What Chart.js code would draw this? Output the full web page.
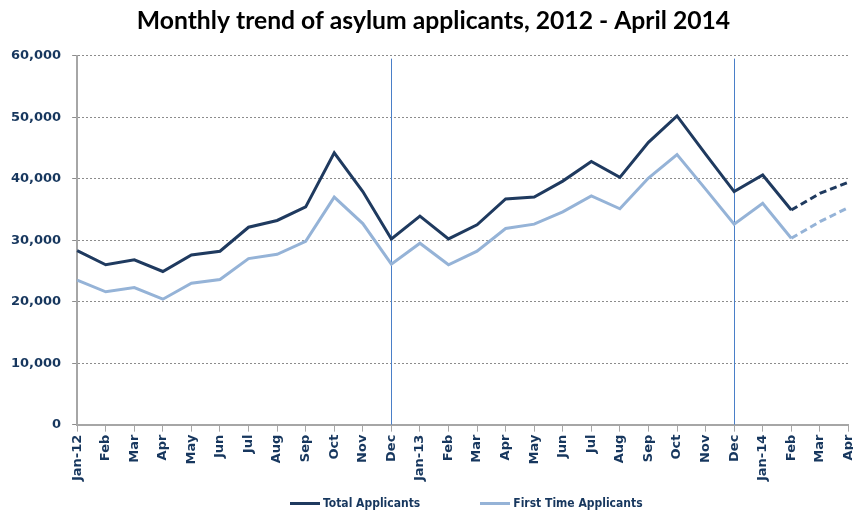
<!DOCTYPE html>
<html>
<head>
<meta charset="utf-8">
<title>Monthly trend of asylum applicants</title>
<script src="https://cdn.jsdelivr.net/npm/chart.js@4.4.1/dist/chart.umd.min.js"></script>
<style>
  html, body { margin: 0; padding: 0; background: #fff; overflow: hidden; }
  #wrap { position: relative; width: 853px; height: 513px; overflow: hidden; }
  #legend {
    position: absolute; top: 496px; left: 290px;
    display: flex; align-items: center;
    font: bold 12px "DejaVu Sans Condensed", "DejaVu Sans", sans-serif;
    color: #17375e;
  }
  .item { display: flex; align-items: center; margin-right: 60px; }
  .swatch { width: 30px; height: 3px; margin-right: 3px; }
</style>
</head>
<body>
<div id="wrap">
  <!-- canvas is a bit wider than the window so the last "Apr" label is clipped like the original -->
  <canvas id="asylumChart" width="867" height="513"></canvas>
  <div id="legend">
    <div class="item"><span class="swatch" style="background:#1f3a5f"></span>Total Applicants</div>
    <div class="item"><span class="swatch" style="background:#95b3d7"></span>First Time Applicants</div>
  </div>
</div>
<script>
// Data
const months = ['Jan-12', 'Feb', 'Mar', 'Apr', 'May', 'Jun', 'Jul', 'Aug', 'Sep', 'Oct', 'Nov', 'Dec',
                'Jan-13', 'Feb', 'Mar', 'Apr', 'May', 'Jun', 'Jul', 'Aug', 'Sep', 'Oct', 'Nov', 'Dec',
                'Jan-14', 'Feb', 'Mar', 'Apr'];
const totalApplicants = [28300, 26000, 26800, 24900, 27600, 28200, 32100, 33200, 35400, 44200, 37900, 30200,
                         33900, 30200, 32500, 36700, 37000, 39600, 42800, 40200, 45900, 50200, 44000, 37900,
                         40600, 34900, 37600, 39400];
const firstTimeApplicants = [23500, 21600, 22300, 20400, 23000, 23600, 27000, 27700, 29800, 37000, 32700, 26100,
                             29500, 26000, 28200, 31900, 32600, 34600, 37200, 35100, 40100, 43900, 38300, 32600,
                             36000, 30300, 33000, 35300];
const yTicks = [0, 10000, 20000, 30000, 40000, 50000, 60000];
const yearBreaks = [11, 23];      // indexes of the December markers
const estimatedFrom = 25;         // segments after this index are dashed

const navy = '#17375e';
const tickFont = { family: 'DejaVu Sans', weight: 'bold', size: 13 };

// Vertical year separators, drawn through the x scale
const yearLines = {
  id: 'yearLines',
  beforeDatasetsDraw(chart) {
    const { ctx, chartArea, scales } = chart;
    ctx.save();
    ctx.strokeStyle = '#4a7fc8';
    ctx.lineWidth = 1;
    yearBreaks.forEach(i => {
      const x = Math.round(scales.x.getPixelForValue(i)) + 0.5;
      ctx.beginPath();
      ctx.moveTo(x, chartArea.top + 3);
      ctx.lineTo(x, chartArea.bottom);
      ctx.stroke();
    });
    ctx.restore();
  }
};

const dashAfter = ctx => ctx.p0DataIndex >= estimatedFrom ? [7, 4] : undefined;

new Chart(document.getElementById('asylumChart'), {
  type: 'line',
  data: {
    labels: months,
    datasets: [
      {
        label: 'Total Applicants',
        data: totalApplicants,
        borderColor: '#1f3a5f',
        borderWidth: 3,
        pointRadius: 0,
        tension: 0,
        segment: { borderDash: dashAfter }
      },
      {
        label: 'First Time Applicants',
        data: firstTimeApplicants,
        borderColor: '#95b3d7',
        borderWidth: 3,
        pointRadius: 0,
        tension: 0,
        segment: { borderDash: dashAfter }
      }
    ]
  },
  options: {
    responsive: false,
    animation: false,
    layout: { padding: { left: 0, right: 0, top: 0, bottom: 29 } },
    plugins: {
      legend: { display: false },
      tooltip: { enabled: false },
      title: {
        display: true,
        text: 'Monthly trend of asylum applicants, 2012 - April 2014',
        color: '#000',
        font: { family: 'Lato', weight: 'bold', size: 24.7 },
        padding: { top: 6, bottom: 20 }
      }
    },
    scales: {
      x: {
        offset: false,
        grid: { drawOnChartArea: false, drawTicks: true, tickLength: 7, color: '#a6a6a6' },
        border: { color: '#a6a6a6', width: 2 },
        ticks: {
          autoSkip: false, minRotation: 90, maxRotation: 90,
          padding: 3, color: navy, font: tickFont
        }
      },
      y: {
        min: 0,
        max: 60000,
        afterBuildTicks: axis => { axis.ticks = yTicks.map(v => ({ value: v })); },
        grid: { color: '#8c8c8c', lineWidth: 1, tickLength: 5 },
        border: { color: '#a6a6a6', width: 2, dash: [2, 2] },
        ticks: {
          padding: 11, color: navy, font: tickFont,
          callback: v => v.toLocaleString('en-US')
        }
      }
    }
  },
  plugins: [yearLines]
});
</script>
</body>
</html>
